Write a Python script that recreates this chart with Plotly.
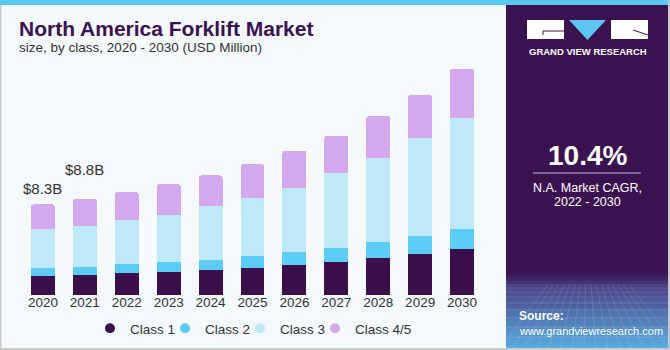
import plotly.graph_objects as go

years = ["2020", "2021", "2022", "2023", "2024", "2025", "2026", "2027", "2028", "2029", "2030"]
class1 = [1733, 1830, 1990, 2110, 2290, 2475, 2750, 3025, 3390, 3790, 4245]
class2 = [757, 760, 825, 890, 945, 1070, 1165, 1310, 1470, 1650, 1835]
class3 = [3530, 3760, 4060, 4340, 4920, 5375, 5900, 6850, 7700, 8960, 10150]
class45 = [2280, 2450, 2540, 2810, 2780, 3060, 3390, 3390, 3790, 3940, 4465]
series_names = ["Class 1", "Class 2", "Class 3", "Class 4/5"]
series_colors = ["#3a0f4b", "#5ccbf6", "#bde9f9", "#d4a8ec"]
callouts = {"2020": "$8.3B", "2021": "$8.8B"}

W_PX, H_PX = 670, 350
L, R, T, B = 22, 187, 60, 55
PW = W_PX - L - R
PH = H_PX - T - B
BG = "#f4f9fc"
PURPLE = "#3b1250"


def px(x):
    return (x - L) / PW


def py(y):
    return (H_PX - B - y) / PH


fig = go.Figure()
for name, vals, col in zip(series_names, [class1, class2, class3, class45], series_colors):
    fig.add_trace(go.Bar(x=years, y=vals, name=name, marker=dict(color=col, line=dict(width=0)),
                         showlegend=False, width=0.57))
for name, col in zip(series_names, series_colors):
    fig.add_trace(go.Scatter(x=[None], y=[None], mode="markers", name=name,
                             marker=dict(color=col, size=10, symbol="circle")))
# invisible spacer entry so the last legend label is not clipped
fig.add_trace(go.Scatter(x=[None], y=[None], mode="markers", name=" ",
                         marker=dict(color="rgba(0,0,0,0)", size=1), hoverinfo="skip"))

totals = [a + b + c + d for a, b, c, d in zip(class1, class2, class3, class45)]
annotations = []
shifts = {"2020": 16, "2021": 29}
for yr, txt in callouts.items():
    i = years.index(yr)
    annotations.append(dict(x=i, y=totals[i], xref="x", yref="y", text=txt, showarrow=False,
                            yshift=shifts[yr], font=dict(size=15, color="#333333", family="Liberation Sans")))

shapes = []
# top stripe
shapes.append(dict(type="rect", xref="paper", yref="paper", x0=px(0), x1=px(668), y0=py(5), y1=py(0),
                   fillcolor="#5bc6f0", line=dict(width=0), layer="below"))
# right panel
shapes.append(dict(type="rect", xref="paper", yref="paper", x0=px(506), x1=px(668), y0=py(348), y1=py(5),
                   fillcolor="#3a1250", line=dict(width=0), layer="below"))
# gradient at panel bottom
grad_top, grad_bot = 272, 348
c0 = (58, 18, 80)
c_mid = (76, 70, 140)
c1 = (88, 176, 226)
n = 40
for k in range(n):
    y0 = grad_top + (grad_bot - grad_top) * k / n
    y1 = grad_top + (grad_bot - grad_top) * (k + 1) / n
    t = (k + 0.5) / n
    if t < 0.22:
        u = t / 0.22
        ca, cb = c0, c_mid
    else:
        u = (t - 0.22) / 0.78
        ca, cb = c_mid, c1
    col = tuple(int(ca[j] + (cb[j] - ca[j]) * u) for j in range(3))
    shapes.append(dict(type="rect", xref="paper", yref="paper", x0=px(506), x1=px(668), y0=py(y1 + 0.5), y1=py(y0),
                       fillcolor="rgb(%d,%d,%d)" % col, line=dict(width=0), layer="below"))
# faint grid texture
gy = 285
step = 3
while gy < 348:
    shapes.append(dict(type="line", xref="paper", yref="paper", x0=px(506), x1=px(668), y0=py(gy), y1=py(gy),
                       line=dict(color="rgba(255,255,255,0.13)", width=1), layer="below"))
    gy += step
    step += 1
for gx in range(500, 690, 12):
    shapes.append(dict(type="line", xref="paper", yref="paper", x0=px(587 + (gx - 587) * 0.45), x1=px(gx),
                       y0=py(285), y1=py(348), line=dict(color="rgba(255,255,255,0.12)", width=1), layer="below"))
# borders
shapes.append(dict(type="rect", xref="paper", yref="paper", x0=px(0), x1=px(1.5), y0=py(350), y1=py(5),
                   fillcolor="#c8c8c8", line=dict(width=0)))
shapes.append(dict(type="rect", xref="paper", yref="paper", x0=px(0), x1=px(670), y0=py(350), y1=py(348),
                   fillcolor="#c8c8c8", line=dict(width=0)))
shapes.append(dict(type="rect", xref="paper", yref="paper", x0=px(668), x1=px(670), y0=py(350), y1=py(0),
                   fillcolor="#c8c8c8", line=dict(width=0)))
# logo
shapes.append(dict(type="rect", xref="paper", yref="paper", x0=px(527), x1=px(564), y0=py(39), y1=py(20),
                   fillcolor="white", line=dict(width=0)))
shapes.append(dict(type="path", xref="paper", yref="paper",
                   path="M %f %f L %f %f L %f %f Z" % (px(569), py(20), px(606), py(20), px(587.5), py(40)),
                   fillcolor="#5bc6f0", line=dict(width=0)))
shapes.append(dict(type="rect", xref="paper", yref="paper", x0=px(611), x1=px(648), y0=py(39), y1=py(20),
                   fillcolor="white", line=dict(width=0)))
shapes.append(dict(type="line", xref="paper", yref="paper", x0=px(543), x1=px(564), y0=py(31), y1=py(31),
                   line=dict(color=PURPLE, width=1)))
shapes.append(dict(type="line", xref="paper", yref="paper", x0=px(543), x1=px(543), y0=py(31), y1=py(35),
                   line=dict(color=PURPLE, width=1)))
shapes.append(dict(type="line", xref="paper", yref="paper", x0=px(633), x1=px(648), y0=py(30), y1=py(35),
                   line=dict(color=PURPLE, width=1)))
# CAGR divider
shapes.append(dict(type="line", xref="paper", yref="paper", x0=px(533), x1=px(641), y0=py(173), y1=py(173),
                   line=dict(color="#c9bcd6", width=1)))

FONT = "Liberation Sans"
annotations += [
    dict(x=px(17), y=py(28.5), xref="paper", yref="paper", xanchor="left", yanchor="middle", showarrow=False,
         text="<b>North America Forklift Market</b>", font=dict(size=21, color=PURPLE, family=FONT)),
    dict(x=px(17), y=py(47), xref="paper", yref="paper", xanchor="left", yanchor="middle", showarrow=False,
         text="size, by class, 2020 - 2030 (USD Million)", font=dict(size=13.5, color="#333333", family=FONT)),
    dict(x=px(587.5), y=py(51), xref="paper", yref="paper", xanchor="center", yanchor="middle", showarrow=False,
         text="<b>GRAND VIEW RESEARCH</b>", font=dict(size=9.5, color="white", family=FONT)),
    dict(x=px(587.5), y=py(155), xref="paper", yref="paper", xanchor="center", yanchor="middle", showarrow=False,
         text="<b>10.4%</b>", font=dict(size=28, color="white", family=FONT)),
    dict(x=px(587.5), y=py(188), xref="paper", yref="paper", xanchor="center", yanchor="middle", showarrow=False,
         text="N.A. Market CAGR,", font=dict(size=12.5, color="white", family=FONT)),
    dict(x=px(587.5), y=py(202), xref="paper", yref="paper", xanchor="center", yanchor="middle", showarrow=False,
         text="2022 - 2030", font=dict(size=12.5, color="white", family=FONT)),
    dict(x=px(517), y=py(316), xref="paper", yref="paper", xanchor="left", yanchor="middle", showarrow=False,
         text="<b>Source:</b>", font=dict(size=12, color="white", family=FONT)),
    dict(x=px(517), y=py(331), xref="paper", yref="paper", xanchor="left", yanchor="middle", showarrow=False,
         text="www.grandviewresearch.com", font=dict(size=11, color="white", family=FONT)),
]

fig.update_layout(
    width=W_PX, height=H_PX,
    margin=dict(l=L, r=R, t=T, b=B, pad=0, autoexpand=False),
    paper_bgcolor=BG, plot_bgcolor=BG,
    barmode="stack", barcornerradius=3,
    font=dict(family=FONT, color="#333333"),
    xaxis=dict(type="category", range=[-0.5, 10.5], showgrid=False, zeroline=False, showline=False,
               ticks="", tickfont=dict(size=13.5, color="#333333"), fixedrange=True,
               ticklabelstandoff=-3),
    yaxis=dict(range=[0, 21500], visible=False, fixedrange=True),
    legend=dict(orientation="h", xref="container", yref="container", x=90 / W_PX, y=1 - 313 / H_PX,
                xanchor="left", yanchor="top", entrywidth=30, entrywidthmode="pixels", traceorder="normal",
                font=dict(size=13.5, color="#333333"), bgcolor="rgba(0,0,0,0)", itemclick=False),
    shapes=shapes,
    annotations=annotations,
    showlegend=True,
)

fig.write_html("out.html", config={"displayModeBar": False})
